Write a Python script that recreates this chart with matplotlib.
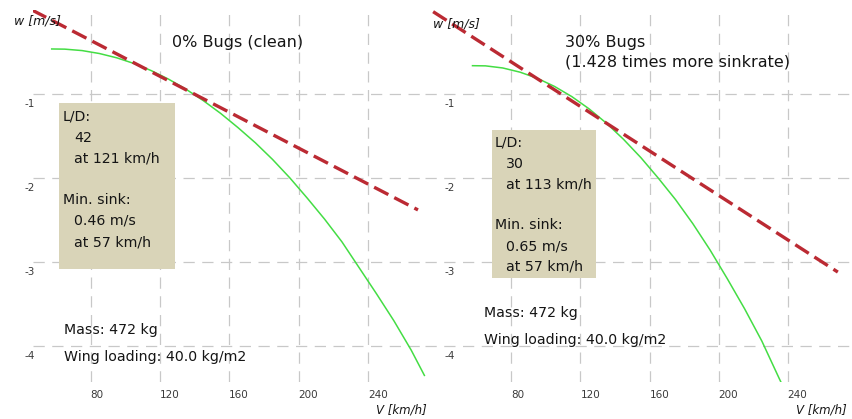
import matplotlib
matplotlib.use("Agg")
import matplotlib.pyplot as plt
from matplotlib.patches import Rectangle
import matplotlib.transforms as mtransforms

# ---------------- data ----------------
# clean polar (0% bugs)
clean_v = [57.5, 65, 75, 85, 95, 105, 115, 125, 135, 145, 155, 165, 175, 185,
           195, 205, 215, 225, 235, 245, 255, 265, 272.6]
clean_w = [-0.464, -0.466, -0.483, -0.518, -0.569, -0.637, -0.722, -0.824, -0.943, -1.079,
           -1.231, -1.40, -1.58, -1.78, -2.00, -2.24, -2.49, -2.76, -3.07, -3.38, -3.70,
           -4.05, -4.35]
clean_ld_v = [46.1, 268.9]
clean_ld_w = [0.0, -2.38]

# 30% bugs polar
bugs_v = [57.5, 65, 75, 85, 95, 105, 115, 125, 135, 145, 155, 165, 175, 185,
          195, 205, 215, 225, 235, 240]
bugs_w = [-0.663, -0.665, -0.690, -0.740, -0.813, -0.910, -1.031, -1.177, -1.347, -1.541,
          -1.758, -2.00, -2.256, -2.542, -2.856, -3.199, -3.556, -3.941, -4.384, -4.60]
bugs_ld_v = [34.7, 269.0]
bugs_ld_w = [-0.02, -3.12]

x_ticks = [80, 120, 160, 200, 240]
y_ticks = [-1, -2, -3, -4]

titles = ["0% Bugs (clean)", "30% Bugs\n(1.428 times more sinkrate)"]
ld_values = ["42", "30"]
ld_speeds = ["at 121 km/h", "at 113 km/h"]
minsink_values = ["0.46 m/s", "0.65 m/s"]
minsink_speeds = ["at 57 km/h", "at 57 km/h"]
mass_text = "Mass: 472 kg"
wl_text = "Wing loading: 40.0 kg/m2"

# ---------------- figure ----------------
W, H = 852, 419
fig = plt.figure(figsize=(W / 100, H / 100), dpi=100)
plt.rcParams['font.family'] = ['DejaVu Sans']

def fx(px):
    return px / W

def fy(py):
    return 1 - py / H

GREEN = '#44dd44'
RED = '#bb2a33'
GRID = '#c8c8c8'
BOX = '#d9d4b8'
TXT = '#151515'

ax_top, ax_bot = 10, 382
panels = [
    dict(x0=33, x1=427, xlim=(46.7, 274.1), v=clean_v, w=clean_w, lv=clean_ld_v, lw=clean_ld_w,
         ypad_px=-2),
    dict(x0=425, x1=852, xlim=(30.0, 277.2), v=bugs_v, w=bugs_w, lv=bugs_ld_v, lw=bugs_ld_w,
         ypad_px=-30),
]

axes = []
for p in panels:
    ax = fig.add_axes([fx(p['x0']), fy(ax_bot), fx(p['x1'] - p['x0']), (ax_bot - ax_top) / H])
    ax.set_xlim(*p['xlim'])
    ax.set_ylim(-4.4286, 0.0)
    ax.patch.set_alpha(0)
    for s in ax.spines.values():
        s.set_visible(False)
    ax.grid(True, color=GRID, linestyle=(0, (9, 6)), linewidth=0.9)
    ax.set_axisbelow(True)
    ax.set_xticks(x_ticks)
    ax.set_xticklabels([str(t) for t in x_ticks])
    ax.set_yticks(y_ticks)
    ax.set_yticklabels([str(t) for t in y_ticks])
    ax.tick_params(axis='both', length=0, labelsize=7.5, colors='#3a3a3a')
    ax.tick_params(axis='x', pad=5.5)
    ax.tick_params(axis='y', pad=p['ypad_px'] * 0.72)
    for lbl in ax.get_xticklabels():
        lbl.set_ha('left')
    off = mtransforms.ScaledTranslation(0, -9 / 100, fig.dpi_scale_trans)
    for lbl in ax.get_yticklabels():
        lbl.set_transform(lbl.get_transform() + off)
    ax.plot(p['v'], p['w'], color=GREEN, linewidth=1.1, zorder=3)
    ax.plot(p['lv'], p['lw'], color=RED, linewidth=2.4, linestyle=(0, (4.8, 2.0)), zorder=4)
    axes.append(ax)

# ---------------- annotations ----------------
def txt(px, py, s, size=10.2, ha='left', style='normal', va='center'):
    fig.text(fx(px), fy(py), s, fontsize=size, ha=ha, va=va, style=style, color=TXT, zorder=10)

# info boxes (drawn over the grid)
boxes = [(59, 103, 175, 269), (492, 130, 596, 278)]
for (x0, y0, x1, y1) in boxes:
    r = Rectangle((fx(x0), fy(y1)), fx(x1 - x0), (y1 - y0) / H, transform=fig.transFigure,
                  facecolor=BOX, edgecolor='none', zorder=5)
    fig.add_artist(r)

# left panel
txt(14, 21, "w [m/s]", size=9, style='italic')
txt(172, 43, titles[0], size=11.5)
hx, ix = 63, 74
ys = [116, 138, 159, 200, 221, 242]
txt(hx, ys[0], "L/D:")
txt(ix, ys[1], ld_values[0])
txt(ix, ys[2], ld_speeds[0])
txt(hx, ys[3], "Min. sink:")
txt(ix, ys[4], minsink_values[0])
txt(ix, ys[5], minsink_speeds[0])
txt(64, 330, mass_text)
txt(64, 357, wl_text)
txt(427, 410, "V [km/h]", size=8.5, style='italic', ha='right')

# right panel
txt(433, 24, "w [m/s]", size=9, style='italic')
t1, t2 = titles[1].split("\n")
txt(565, 43, t1, size=11.5)
txt(565, 62, t2, size=11.5)
hx, ix = 495, 506
ys = [143, 164, 184, 225, 246, 266]
txt(hx, ys[0], "L/D:")
txt(ix, ys[1], ld_values[1])
txt(ix, ys[2], ld_speeds[1])
txt(hx, ys[3], "Min. sink:")
txt(ix, ys[4], minsink_values[1])
txt(ix, ys[5], minsink_speeds[1])
txt(484, 313, mass_text)
txt(484, 340, wl_text)
txt(847, 410, "V [km/h]", size=8.5, style='italic', ha='right')

fig.savefig("out.png", dpi=100)
